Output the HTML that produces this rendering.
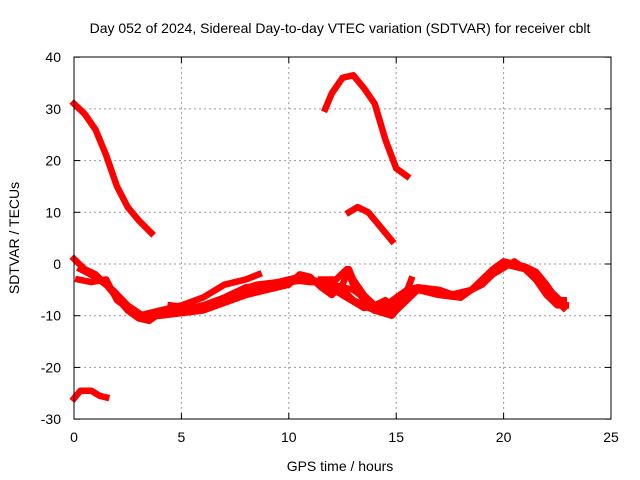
<!DOCTYPE html>
<html><head><meta charset="utf-8"><style>
body{margin:0;background:#fff}
svg{display:block;font-family:"Liberation Sans",sans-serif}
</style></head><body>
<svg id="chart" width="640" height="480">
<text x="340" y="33" font-size="14" text-anchor="middle">Day 052 of 2024, Sidereal Day-to-day VTEC variation (SDTVAR) for receiver cblt</text>
<text x="340" y="471" font-size="14" text-anchor="middle">GPS time / hours</text>
<text transform="translate(19,238) rotate(-90)" font-size="14" text-anchor="middle">SDTVAR / TECUs</text>
<g id="grid"></g><g id="series"></g>
<rect x="74" y="57" width="537" height="362" fill="none" stroke="#000" stroke-width="1"/>
</svg>
<script>
const xTicks=[0,5,10,15,20,25];
const yTicks=[-30,-20,-10,0,10,20,30,40];
const trackAx=[0,0.5,1,1.5,2,2.5,3,3.6];
const trackAy=[31,29,26,21,15,11,8.5,6];
const trackBx=[0,0.3,0.8,1.2,1.5];
const trackBy=[-26,-24.5,-24.5,-25.5,-25.8];
const trackCx=[11.7,12,12.5,13,13.5,14,14.5,15,15.5];
const trackCy=[30,33,36,36.5,34,31,24,18.5,17];
const trackDx=[12.8,13.2,13.7,14.2,14.8];
const trackDy=[10,11,10,7.5,4.5];
const trackL1x=[0,0.5,1,1.5,2,2.5,3,3.5,4,4.5,5,6,7,8,9,10,11,12,12.5,13,14,14.5,15,15.5,16,17,18,18.5,19,19.5,20,20.5,21,21.5,22,22.5,22.8];
const trackL1y=[1,-1,-2,-4,-6.5,-9,-10.5,-11,-9.5,-8.5,-9,-8,-6.5,-4.5,-4,-3,-3.5,-3.5,-5,-7,-9,-9.5,-8,-5,-4.5,-5,-6.5,-5,-3,-1,0.5,0,-0.5,-1.5,-4,-7,-7];
const trackL2x=[0.2,0.8,1.5,2,2.5,3,4,5,6,7,8,8.6];
const trackL2y=[-3,-3.5,-3,-7,-8.5,-10,-9,-8,-6.5,-4,-3,-2];
const trackL3x=[3,4,5,6,7,8,9,10,10.5,11,11.5,12,12.5,12.8,13,13.5,14,14.5,15,15.5,16,17,18,19,19.5,20,20.5,21,21.5,22,22.5,22.9];
const trackL3y=[-10,-10,-9.5,-9,-7.5,-6,-5,-4,-2,-2.5,-4.5,-6,-4,-1,-3,-6,-8,-7,-9,-6.5,-5,-5.5,-6,-4,-2,0,0,-1,-3,-6,-8,-8];
const trackL4x=[11.5,12.2,12.7,13,13.5,14,14.8,15.3,15.7];
const trackL4y=[-3,-3,-1,-4,-7,-9,-10,-7.5,-3];
const trackL5x=[0.3,1,1.8,2.5,3.2,4,5,6,7,8,9,10,11,12,13,14,15,16,17,18,19,20,21,22,22.8];
const trackL5y=[-1,-2.5,-5,-8,-10,-9,-9,-8.5,-7,-5,-4.5,-3.5,-3,-4,-5,-8,-9,-5,-6,-6.5,-3.5,0,-1,-5,-8.5];
const trackL6x=[4.5,5.5,6.5,7.5,8.5,9.5,10.5,11.5,12.5,13.5,14.5,15.5,16.5,17.5,18.5,19.5,20.5,21.5,22.5];
const trackL6y=[-8,-8.5,-7.5,-5.5,-4,-3.5,-2.5,-3.5,-6,-8.5,-8,-5,-5,-6,-5,-2,0.5,-2.5,-6.5];
const tracks=[[trackAx,trackAy,'track-a'],[trackBx,trackBy,'track-b'],[trackCx,trackCy,'track-c'],[trackDx,trackDy,'track-d'],[trackL1x,trackL1y,'track-l1'],[trackL2x,trackL2y,'track-l2'],[trackL3x,trackL3y,'track-l3'],[trackL4x,trackL4y,'track-l4'],[trackL5x,trackL5y,'track-l5'],[trackL6x,trackL6y,'track-l6']];
const X=h=>74+h*(537/25), Y=v=>264-v*(362/70);
const NS='http://www.w3.org/2000/svg';
const grid=document.getElementById('grid'), ser=document.getElementById('series');
function mk(tag,attrs,parent){const e=document.createElementNS(NS,tag);for(const k in attrs)e.setAttribute(k,attrs[k]);parent.appendChild(e);return e;}
xTicks.forEach(t=>{
 if(t>0&&t<25){const l=mk('line',{x1:X(t),x2:X(t),y1:57,y2:419,stroke:'#999','stroke-dasharray':'2,3'},grid);
 
 }
 mk('line',{x1:X(t),x2:X(t),y1:419,y2:413,stroke:'#000'},grid);
 mk('line',{x1:X(t),x2:X(t),y1:57,y2:63,stroke:'#000'},grid);
 const tx=mk('text',{x:X(t),y:442,'font-size':14,'text-anchor':'middle'},grid);tx.textContent=t;
 
 
});
yTicks.forEach(t=>{
 if(t>-30&&t<40){const l=mk('line',{x1:74,x2:611,y1:Y(t),y2:Y(t),stroke:'#999','stroke-dasharray':'2,3'},grid);
 
 }
 mk('line',{x1:74,x2:80,y1:Y(t),y2:Y(t),stroke:'#000'},grid);
 mk('line',{x1:605,x2:611,y1:Y(t),y2:Y(t),stroke:'#000'},grid);
 const tx=mk('text',{x:61,y:Y(t)+5,'font-size':14,'text-anchor':'end'},grid);tx.textContent=t;
 
 
});
tracks.forEach(([xs,ys,name])=>{
 const pts=xs.map((x,i)=>X(x)+','+Y(ys[i])).join(' ');
 const p=mk('polyline',{points:pts,fill:'none',stroke:'#ff0000','stroke-width':6.5,'stroke-linejoin':'round','stroke-linecap':'square'},ser);
 
 
});
</script>
</body></html>
